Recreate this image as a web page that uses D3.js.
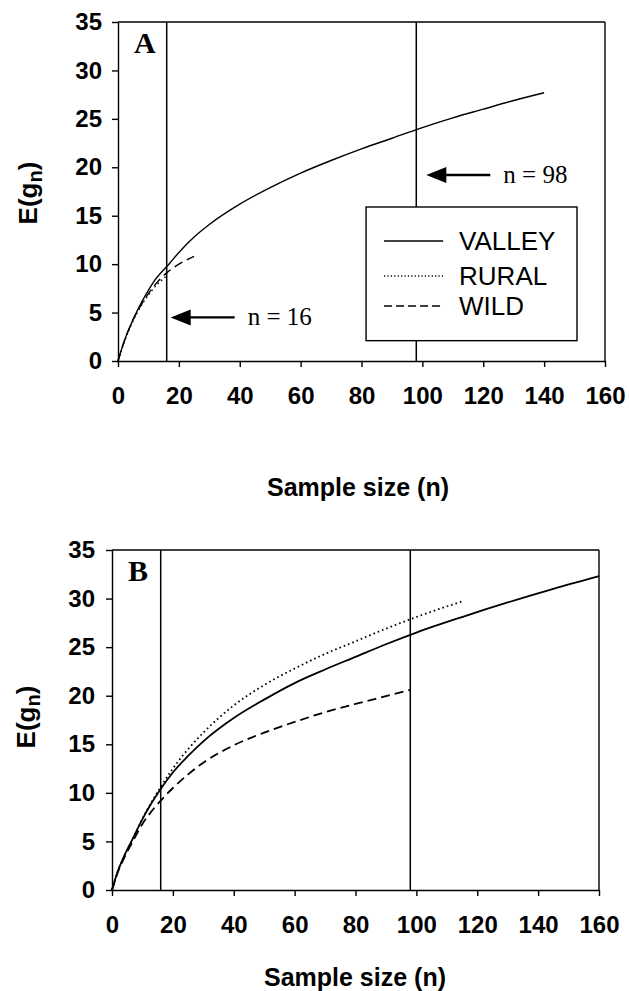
<!DOCTYPE html>
<html>
<head>
<meta charset="utf-8">
<script src="https://cdn.jsdelivr.net/npm/d3@7/dist/d3.min.js"></script>
<style>
  html, body { margin: 0; padding: 0; background: #fff; }
  svg { display: block; }
</style>
</head>
<body>
<svg id="chart" width="629" height="991"></svg>
<script>
// ---------- data ----------
const xTicks = [0, 20, 40, 60, 80, 100, 120, 140, 160];
const yTicks = [0, 5, 10, 15, 20, 25, 30, 35];
const seriesNames = ["VALLEY", "RURAL", "WILD"];
const markerLines = [16, 98];

// Panel A
const valleyA = [[0,0],[2,2.0],[5,4.3],[8,6.2],[12,8.3],[17,10.1],[20,11.2],[25,12.8],[30,14.1],[40,16.2],[50,17.9],[60,19.4],[70,20.7],[80,21.9],[90,23.0],[100,24.1],[110,25.1],[120,26.0],[130,26.9],[140,27.7]];
const ruralA  = [[0,0],[2,1.9],[5,4.2],[8,5.9],[12,7.6],[16,8.8]];
const wildA   = [[0,0],[2,2.0],[5,4.3],[8,6.0],[12,7.8],[16,9.1],[20,10.0],[25,10.8]];

// Panel B
const valleyB = [[0,0],[2,2.0],[4,3.5],[7,5.4],[10,7.3],[13,8.95],[16,10.4],[20,12.1],[25,13.8],[30,15.3],[40,17.7],[50,19.6],[60,21.3],[70,22.7],[80,24.0],[90,25.3],[100,26.5],[115,28.1],[130,29.6],[145,31.0],[160,32.3]];
const ruralB  = [[0,0],[2,2.0],[4,3.5],[7,5.4],[10,7.35],[13,9.05],[16,10.6],[20,12.5],[25,14.5],[30,16.2],[40,19.0],[50,21.1],[60,22.8],[70,24.3],[80,25.6],[90,26.9],[100,28.1],[115,29.7]];
const wildB   = [[0,0],[2,1.9],[4,3.3],[7,5.1],[10,6.8],[13,8.1],[16,9.2],[20,10.5],[25,11.9],[30,13.1],[40,14.9],[50,16.2],[60,17.3],[70,18.3],[80,19.15],[90,19.95],[98,20.6]];

// annotations (data units)
const arrowsA = [{n: 16, E: 4.5, label: "n = 16"}, {n: 98, E: 19.2, label: "n = 98"}];

// ---------- drawing ----------
const svg = d3.select("#chart");
const FONT = "'Liberation Sans', Arial, Helvetica, sans-serif";
const SERIF = "'Liberation Serif', 'Times New Roman', serif";

const styles = {
  VALLEY: {dash: null},
  RURAL:  {dash: "1.6,3"},
  WILD:   {dash: "9,5"}
};

function panel(opts) {
  const x = d3.scaleLinear().domain([0, 160]).range([opts.left, opts.right]);
  const y = d3.scaleLinear().domain([0, 35]).range([opts.bottom, opts.top]);
  const g = svg.append("g");

  // marker vertical lines
  g.selectAll("line.marker").data(markerLines).join("line")
    .attr("x1", d => x(d)).attr("x2", d => x(d))
    .attr("y1", y(0)).attr("y2", y(35))
    .attr("stroke", "#000").attr("stroke-width", 1.5);

  // axes
  const yAxis = g.append("g").attr("transform", `translate(${x(0)},0)`)
    .call(d3.axisLeft(y).tickValues(yTicks).tickSize(6).tickSizeOuter(0).tickPadding(opts.yPad));
  const xAxis = g.append("g").attr("transform", `translate(0,${y(0)})`)
    .call(d3.axisBottom(x).tickValues(xTicks).tickSize(6).tickSizeOuter(0).tickPadding(20));
  [yAxis, xAxis].forEach(a => {
    a.selectAll("path,line").attr("stroke", "#000").attr("stroke-width", 1.4);
    a.selectAll("text").attr("font-family", FONT).attr("font-weight", "bold")
      .attr("font-size", 24).attr("fill", "#000");
  });
  // top and right frame
  g.append("line").attr("x1", x(0)).attr("x2", x(160)).attr("y1", y(35)).attr("y2", y(35))
    .attr("stroke", "#000").attr("stroke-width", 1.4);
  g.append("line").attr("x1", x(160)).attr("x2", x(160)).attr("y1", y(35)).attr("y2", y(0))
    .attr("stroke", "#000").attr("stroke-width", 1.4);

  // curves
  const line = d3.line().x(d => x(d[0])).y(d => y(d[1])).curve(d3.curveMonotoneX);
  opts.series.forEach((s, i) => {
    g.append("path").datum(s).attr("d", line)
      .attr("fill", "none").attr("stroke", "#000")
      .attr("stroke-width", opts.sw)
      .attr("stroke-dasharray", styles[seriesNames[i]].dash);
  });

  // panel letter
  g.append("text").attr("x", x(0) + 16).attr("y", y(35) + 31)
    .attr("font-family", SERIF).attr("font-weight", "bold").attr("font-size", 30)
    .text(opts.letter);

  // y title
  const yt = g.append("text")
    .attr("transform", `translate(${opts.yTitleX},${opts.yTitleY}) rotate(-90)`)
    .attr("text-anchor", "middle")
    .attr("font-family", FONT).attr("font-weight", "bold").attr("font-size", 26);
  yt.append("tspan").text("E(g");
  yt.append("tspan").attr("font-size", 20).attr("dy", 5).text("n");
  yt.append("tspan").attr("dy", -5).text(")");

  // x title
  g.append("text").attr("x", opts.xTitleX).attr("y", opts.xTitleY)
    .attr("text-anchor", "middle")
    .attr("font-family", FONT).attr("font-weight", "bold").attr("font-size", 25)
    .text("Sample size (n)");

  return {g, x, y};
}

// ---- Panel A ----
const A = panel({left: 118, right: 605, top: 22, bottom: 361, yPad: 10,
  series: [valleyA, ruralA, wildA], sw: 1.4, letter: "A",
  yTitleX: 37, yTitleY: 193, xTitleX: 358, xTitleY: 496});

// arrows in A
arrowsA.forEach(a => {
  const tipX = A.x(a.n) + (a.n === 16 ? 4 : 10);
  const yy = A.y(a.E);
  const tailX = tipX + 64;
  A.g.append("line").attr("x1", tipX + 14).attr("x2", tailX).attr("y1", yy).attr("y2", yy)
    .attr("stroke", "#000").attr("stroke-width", 2.4);
  A.g.append("path")
    .attr("d", `M${tipX},${yy} L${tipX + 20},${yy - 8} L${tipX + 20},${yy + 8} Z`)
    .attr("fill", "#000");
  A.g.append("text").attr("x", tailX + 13).attr("y", yy + 8)
    .attr("font-family", SERIF).attr("font-size", 25).text(a.label);
});

// legend in A
const lg = A.g.append("g");
const lx0 = A.x(81.5), lx1 = A.x(150.8), ly0 = A.y(15.9), ly1 = A.y(2.1);
lg.append("rect").attr("x", lx0).attr("y", ly0).attr("width", lx1 - lx0).attr("height", ly1 - ly0)
  .attr("fill", "#fff").attr("stroke", "#000").attr("stroke-width", 1.4);
const legendRows = [34, 69, 99];
seriesNames.forEach((name, i) => {
  const yy = ly0 + legendRows[i];
  lg.append("line").attr("x1", lx0 + 18).attr("x2", lx0 + 77).attr("y1", yy).attr("y2", yy)
    .attr("stroke", "#000").attr("stroke-width", 1.4)
    .attr("stroke-dasharray", styles[name].dash === null ? null : (name === "RURAL" ? "1.2,2.2" : "8,4"));
  lg.append("text").attr("x", lx0 + 93).attr("y", yy + 9)
    .attr("font-family", FONT).attr("font-size", 26).text(name);
});

// ---- Panel B ----
const B = panel({left: 112, right: 599, top: 550, bottom: 890, yPad: 11,
  series: [valleyB, ruralB, wildB], sw: 1.8, letter: "B",
  yTitleX: 35, yTitleY: 717, xTitleX: 355, xTitleY: 986});
</script>
</body>
</html>
